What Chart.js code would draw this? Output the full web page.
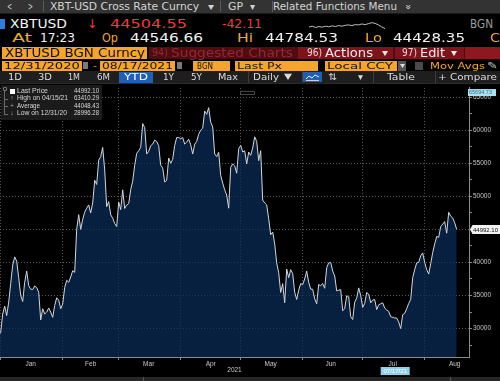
<!DOCTYPE html>
<html><head><meta charset="utf-8">
<script src="https://cdn.jsdelivr.net/npm/chart.js@4.4.0/dist/chart.umd.min.js"></script>
<style>
html,body{margin:0;padding:0;background:#000;width:500px;height:381px;overflow:hidden;position:relative;font-family:'DejaVu Sans',sans-serif;}
.t{position:absolute;white-space:nowrap;transform-origin:0 0;line-height:1;}
.r{position:absolute;}
#cw{position:absolute;left:0;top:83px;width:500px;height:298px;}
#sw{position:absolute;left:308px;top:14px;width:78px;height:18px;}
</style></head><body>
<div id="cw"><canvas id="c" width="500" height="298"></canvas></div>
<div id="sw"><canvas id="s" width="78" height="18"></canvas></div>
<script>
// ---------- DATA ----------
// daily BGN closes, index 0 = 12/31/2020 ... index 229 = 08/17/2021
const prices = [
28996.28,29400,32200,33400,31970,34000,36800,39600,40840,40200,
37700,35000,34100,37000,38700,36500,35950,35900,36450,36200,
35500,31300,33000,32200,32500,33100,32500,31700,33500,34660,
34300,33000,33700,36200,37300,37000,37800,38750,38500,45000,
47230,45000,46500,47600,48200,48700,47500,49000,52430,51800,
55470,56000,57400,54000,48430,49200,47200,46700,45900,45430,
49130,47990,50980,48160,48700,48900,51000,52300,54700,56500,
56900,57400,61000,60400,56400,56800,57650,57900,58500,58300,
57650,54700,54300,52170,52400,55800,55000,55600,57700,58900,
58900,58700,58900,57900,58200,58650,57800,56400,57900,58300,
59400,60000,60300,62900,62400,63410.29,61200,60500,56400,56000,
56650,53170,52000,50980,50200,48200,54400,54900,54600,53500,
57200,57700,56700,56900,54900,56700,56200,57300,59000,58300,
55400,56900,49430,49000,48700,46600,44190,44600,42800,39940,
38440,35450,36800,33900,39000,37700,38900,38300,35500,34400,
35800,36800,36650,37500,38700,37000,35950,35950,34500,33750,
36650,36500,36800,36100,39200,39940,40000,38700,37950,35700,
35800,35900,32700,33000,34950,34800,31800,31370,34000,34600,
36150,35000,33200,33800,35450,35200,33900,34300,34400,32870,
33600,33750,33900,33100,32800,32600,31800,31700,31600,31600,
31000,30000,32100,32300,33000,33800,34400,37700,38900,39950,
40000,41000,41440,40000,38900,38240,39800,41500,42800,43930,
43800,45430,45800,46180,44430,47580,47000,46740,46000,44992.10
];
const monthNames = ['Jan','Feb','Mar','Apr','May','Jun','Jul','Aug'];
const monthStartIdx = [1,32,60,91,121,152,182,213];
const monthMidIdx = [16,46,75,106,136,166,197,228];
const yearLabel = '2021';
const yMajorTicks = [30000,35000,40000,45000,50000,55000,60000,65000];
const legendLabels = ['Last Price','High on 04/15/21','Average','Low on 12/31/20'];
const legendValues = ['44992.10','63410.29','44048.43','28996.28'];
const axisTopValue = 65694.73;
const axisTopLabel = '65694.73';
const cursorIdx = 198;
const cursorLabel = '07/17/21';
const sparkData = [25,30,22,28,24,30,26,32,28,34,30,36,38,34,40,38,44,40,46,52,48,38,26,15];

// ---------- HEADER HELPERS ----------
function R(x,y,w,h,c,extra){const d=document.createElement('div');d.className='r';
  d.style.cssText+=`left:${x}px;top:${y}px;width:${w}px;height:${h}px;background:${c};`+(extra||'');
  document.body.appendChild(d);return d;}
function T(txt,x,y,w,size,color,fam,weight){const d=document.createElement('div');d.className='t';
  d.textContent=txt;d.style.left=x+'px';d.style.top=y+'px';d.style.fontSize=size+'px';d.style.color=color;
  if(fam)d.style.fontFamily=fam; if(weight)d.style.fontWeight=weight;
  document.body.appendChild(d);
  if(w){const mw=d.getBoundingClientRect().width; if(mw>0)d.style.transform=`scaleX(${w/mw})`;}
  return d;}
const OR='#f5a52a', RED='#f33a3a', WH='#f4f4f4';

// Row 1
R(0,0,500,13,'#333');
R(0,13,500,1,'#1a1a1a');
[43,220,272].forEach(x=>R(x,1,1,11,'#5a5a5a'));
const g1='#d4d4d4';
T('<',7,2.1,5,10,g1);T('>',28,2.1,5,10,g1);
T('XBT-USD Cross Rate Curncy',50,2.1,149,10,g1);
T('▾',208,2.1,6,10,g1);T('GP',228,2.1,15,10,g1);T('▾',250,2.1,5,10,g1);
T('Related Functions Menu',273,2.1,124,10,g1);
const chev=T('»',405,1.5,0,10,g1);chev.style.transform='rotate(90deg)';chev.style.transformOrigin='50% 50%';

// Row 2
R(0,19,5,10,'#2f7de1');
T('XBTUSD',10,17.5,57,12.3,WH);
T('↓',87,17.5,10,12.3,RED);
T('44504.55',110,17.5,77,12.3,RED);
T('-42.11',222,17.5,40,12.3,RED);
T('BGN',470,17.5,23,12.3,'#9a9a9a');

// Row 3
T('At',12,31.8,20,12.3,OR);T('17:23',40,31.8,35,12.3,WH);
T('Op',102,31.8,16,12.3,OR);T('44546.66',130,31.8,73,12.3,WH);
T('Hi',237,31.8,16,12.3,OR);T('44784.53',265,31.8,73,12.3,WH);
T('Lo',365,31.8,17,12.3,OR);T('44428.35',393,31.8,72,12.3,WH);
T('C',490,31.8,10,12.3,OR);

// Row 4
R(2,47,145,12,OR);T('XBTUSD BGN Curncy',5,46.9,140,12.3,'#111');
R(149,47,351,12,'#520c11');
T('94)',152,48.3,16,10,'#8e2a33');T('Suggested Charts',171,46.9,122,12.3,'#8e2a33');
R(298,47,95,12,'#7e141b');
T('96)',307,48.3,15,10,'#e8d6d6');T('Actions',325,46.9,48,12.3,'#f3e9e9');T('▾',382,47.5,6,10,'#f3e9e9');
R(395,47,69,12,'#7e141b');
T('97)',402,48.3,15,10,'#e8d6d6');T('Edit',420,46.9,25,12.3,'#f3e9e9');T('▾',451,47.5,6,10,'#f3e9e9');
R(465,47,35,12,'#8c1820');

// Row 5
const bk='#111';
R(2,61,80,9.5,OR);T('12/31/2020',4,61.2,76,9.2,bk);
R(83,62,5,7,'#7a7a7a');
T('-',93,61.2,4,9.2,OR);
R(100,61,75,9.5,OR);T('08/17/2021',102,61.2,71,9.2,bk);
R(177,62,5,7,'#7a7a7a');
R(193,61,37,9.5,OR);T('BGN',197,61.2,16,9.2,bk);
R(235,61,83,9.5,OR);T('Last Px',237,61.2,45,9.2,bk);
R(325,61,72,9.5,OR);T('Local CCY',327,61.2,66,9.2,bk);
R(398,61,8,9.5,'#555');T('▾',399.5,61.5,5,8,'#ddd');
R(415,62,8,8,'#4a4a4a');
T('Mov Avgs',430,61.2,55,9.2,OR);
T('✎',487,60.5,11,10,'#bbb');

// Row 6
R(0,71,500,12,'#1e1e1e');
const g6='#dcdcdc';
T('1D',8,72.2,14,9.2,g6);T('3D',38,72.2,14,9.2,g6);T('1M',68,72.2,12,9.2,g6);T('6M',97,72.2,13,9.2,g6);
R(119,71.5,34,11,'#1f5fb5');T('YTD',124,72.2,24,9.2,'#fff');
T('1Y',163,72.2,11,9.2,g6);T('5Y',191,72.2,11,9.2,g6);T('Max',218,72.2,20,9.2,g6);
R(248,71,1,12,'#3c3c3c');
T('Daily',253,72.2,26,9.2,g6);T('▼',284,72.8,8,8,g6);
R(302,71,1,12,'#3c3c3c');
R(303,72,19,10,'#1f5fb5');
T('⇅',328,72.2,9,9.2,g6);T('▾',358,72.2,5,9.2,g6);
R(373,71,1,12,'#3c3c3c');
T('Table',387,72.2,28,9.2,g6);
R(435,71,1,12,'#3c3c3c');
T('+ Compare',438,72.2,59,9.2,g6);
R(0,83,500,1,'#2a2a2a');
// small line icon in the blue button
const ic=document.createElementNS('http://www.w3.org/2000/svg','svg');
ic.setAttribute('width','19');ic.setAttribute('height','10');
ic.style.cssText='position:absolute;left:303px;top:72px;';
ic.innerHTML='<polyline points="3,7 6,4 9,6 12,3 16,5" fill="none" stroke="#e8f0ff" stroke-width="1"/><line x1="3" y1="8.5" x2="16" y2="8.5" stroke="#e8f0ff" stroke-width="0.8"/>';
document.body.appendChild(ic);

// bottom bar
R(0,377,500,4,'#262626');R(143,377,1,4,'#555');R(450,377,1,4,'#555');

// ---------- MAIN CHART ----------
const overlay = {
  id:'overlay',
  afterDraw(chart){
    const {ctx,scales:{x,y},chartArea:a}=chart;
    ctx.save();
    // last price marker
    const lp=prices[prices.length-1];
    const yy=Math.round(y.getPixelForValue(lp))+0.5;
    ctx.fillStyle='#f2f2f2';
    ctx.beginPath();
    ctx.moveTo(a.right+1,yy);ctx.lineTo(a.right+3.5,yy-4.5);ctx.lineTo(500,yy-4.5);
    ctx.lineTo(500,yy+4.5);ctx.lineTo(a.right+3.5,yy+4.5);ctx.closePath();ctx.fill();
    ctx.fillStyle='#111';ctx.font='6px "Liberation Sans"';ctx.textBaseline='middle';ctx.textAlign='left';
    ctx.fillText(legendValues[0],a.right+4,yy+0.5,25);
    // axis top value
    const ty=y.getPixelForValue(axisTopValue);
    ctx.fillStyle='#a9e2f3';ctx.fillRect(a.right-1,ty-3.5,28,7);
    ctx.fillStyle='#3d7088';ctx.font='5.5px "Liberation Sans"';
    ctx.fillText(axisTopLabel,a.right,ty,26);
    // cursor date label
    const cx=x.getPixelForValue(cursorIdx);
    ctx.fillStyle='#8fd0ea';ctx.fillRect(cx-14,a.bottom+10,29,8);
    ctx.fillStyle='#ffffff';ctx.textAlign='center';ctx.font='6px "Liberation Sans"';
    ctx.fillText(cursorLabel,cx+0.5,a.bottom+14.2,28);
    // small collapse handle
    ctx.strokeStyle='#4a4a4a';ctx.lineWidth=1;ctx.strokeRect(240.5,a.top+3.5,14,3);
    ctx.restore();
  }
};

const GRID='#5c5c5c';
new Chart(document.getElementById('c'),{
  type:'line',
  data:{datasets:[{
    data:prices.map((v,i)=>({x:i,y:v})),
    borderColor:'#d2d7dc',borderWidth:1,pointRadius:0,tension:0,
    fill:'start',backgroundColor:'rgba(10,45,88,0.72)'
  }]},
  options:{
    responsive:false,animation:false,devicePixelRatio:1,
    layout:{padding:{top:2,left:0,right:0,bottom:0}},
    plugins:{legend:{display:false},tooltip:{enabled:false}},
    scales:{
      x:{type:'linear',min:0.65,max:235.15,
        afterBuildTicks(s){s.ticks=[...monthStartIdx,...monthMidIdx].sort((p,q)=>p-q).map(v=>({value:v}));},
        afterFit(s){s.height=24;},
        ticks:{autoSkip:false,maxRotation:0,padding:0,color:'#c8c8c8',font:{family:'Liberation Sans',size:6.5},
          callback(v){const k=monthMidIdx.indexOf(v);return k>=0?monthNames[k]:'';}},
        grid:{lineWidth:1,tickLength:3,
          color:c=>c.tick&&monthStartIdx.includes(c.tick.value)?GRID:'rgba(0,0,0,0)',
          tickColor:c=>c.tick&&monthStartIdx.includes(c.tick.value)?'#8a8a8a':'rgba(0,0,0,0)'},
        border:{display:true,color:'#8c8c8c',width:1,dash:[1,2]},
        title:{display:true,text:yearLabel,color:'#c8c8c8',font:{family:'Liberation Sans',size:6.5},padding:{top:0,bottom:6.6}}
      },
      y:{type:'linear',position:'right',min:25700,max:66400,
        afterBuildTicks(s){const t=[];for(let v=27500;v<=65000;v+=2500)t.push({value:v});s.ticks=t;},
        afterFit(s){s.width=31;},
        ticks:{padding:1,color:'#c4c4c4',font:{family:'Liberation Sans',size:6.5},
          callback(v){return yMajorTicks.includes(v)?String(v):'';}},
        grid:{lineWidth:1,tickLength:3,
          color:c=>c.tick&&yMajorTicks.includes(c.tick.value)?GRID:'rgba(0,0,0,0)',
          tickColor:'#8a8a8a'},
        border:{display:true,color:'#8c8c8c',width:1,dash:[1,2]}
      }
    }
  },
  plugins:[overlay]
});

// ---------- SPARKLINE ----------
new Chart(document.getElementById('s'),{
  type:'line',
  data:{labels:sparkData.map((_,i)=>i),datasets:[{data:sparkData,borderColor:'#bdbdbd',borderWidth:1,pointRadius:0,tension:0,fill:false}]},
  options:{responsive:false,animation:false,devicePixelRatio:1,layout:{padding:1},
    plugins:{legend:{display:false},tooltip:{enabled:false}},
    scales:{x:{display:false},y:{display:false}}}
});

// ---------- LEGEND BOX ----------
R(1,85,101,35,'rgba(28,28,28,0.95)');
R(4,90,1,24,'#6a6a6a');
[98.5,106,113.5].forEach(y=>R(4,y,4,1,'#6a6a6a'));
R(2.5,86.5,4,4,'transparent','border:1px solid #7a7a7a;box-sizing:border-box;border-radius:1px;');
R(10,88.5,5,5,'#ffffff');
const LF='Liberation Sans', LC='#d6d6d6';
const rowC=[91,98.5,106,113.5];
const labW=[31,51,23,50];
const icons=['','↑','+','↓'];
legendLabels.forEach((l,i)=>{
  const top=rowC[i]-3.2;
  if(icons[i])T(icons[i],10,top,4,6.5,'#9a9a9a',LF);
  T(l,17,top,labW[i],6.5,LC,LF);
  T(legendValues[i],74,top,25,6.5,LC,LF);
});
</script>
</body></html>
